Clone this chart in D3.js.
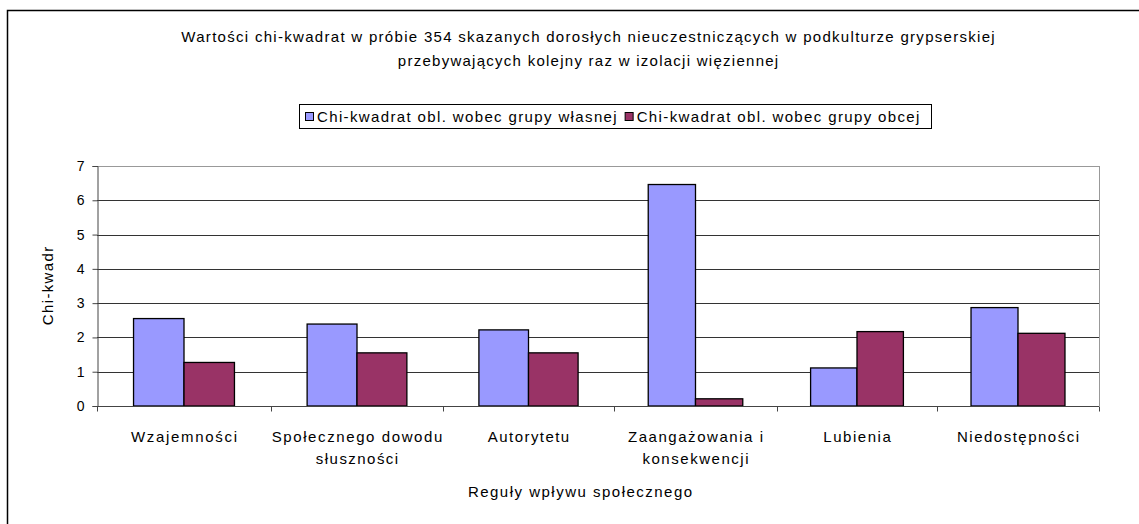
<!DOCTYPE html>
<html><head><meta charset="utf-8">
<script src="https://cdn.jsdelivr.net/npm/d3@7"></script>
<style>body{margin:0;background:#fff}svg{display:block;font-family:"Liberation Sans",Arial,sans-serif}</style>
</head><body><svg id="c" width="1139" height="524"></svg>
<script>
const categories = [["Wzajemności"],["Społecznego dowodu","słuszności"],["Autorytetu"],["Zaangażowania i","konsekwencji"],["Lubienia"],["Niedostępności"]];
const seriesNames = ["Chi-kwadrat obl. wobec grupy własnej","Chi-kwadrat obl. wobec grupy obcej"];
const ownGroup = [2.55, 2.39, 2.22, 6.46, 1.11, 2.87];
const otherGroup = [1.27, 1.55, 1.55, 0.21, 2.17, 2.12];
const yTicks = [0,1,2,3,4,5,6,7];
const titleLines = ["Wartości chi-kwadrat w próbie 354 skazanych dorosłych nieuczestniczących w podkulturze grypserskiej","przebywających kolejny raz w izolacji więziennej"];
const xTitle = "Reguły wpływu społecznego";
const yTitle = "Chi-kwadr";
const colors = ["#9999FF","#993366"];

const svg = d3.select("#c");
const T=166,B=406;
const edges=[97,271,443,614,777,937,1099]; // category boundaries of the plot (layout)
const L=edges[0],R=edges[edges.length-1];
const FS=15, SP=1.19;

function stretch(t,f){const n=t.node();const l=n.getComputedTextLength();t.attr("textLength",l*f).attr("lengthAdjust","spacing");return l*f;}

svg.append("rect").attr("x",7.5).attr("y",10.5).attr("width",1200).attr("height",600).attr("fill","none").attr("stroke","#000").attr("stroke-width",1.5);

const x = d3.scaleLinear().domain(d3.range(edges.length)).range(edges);
const y = d3.scaleLinear().domain([0,7]).range([B,T]);
const barFrac=0.29;
const bx=(i,si)=>{const c=(x(i)+x(i+1))/2,w=(x(i+1)-x(i))*barFrac;return c-w+si*w;};
const bw=i=>(x(i+1)-x(i))*barFrac;

// gridlines
svg.append("g").selectAll("line").data(yTicks.slice(1)).join("line")
  .attr("x1",L).attr("x2",R).attr("y1",d=>Math.round(y(d))+0.5).attr("y2",d=>Math.round(y(d))+0.5)
  .attr("stroke",d=>d===7?"#999":"#333").attr("stroke-width",1);
svg.append("line").attr("x1",R+0.5).attr("x2",R+0.5).attr("y1",T).attr("y2",B).attr("stroke","#999");

// bars
[ownGroup,otherGroup].forEach((vals,si)=>{
  svg.append("g").selectAll("rect").data(vals).join("rect")
    .attr("x",(d,i)=>bx(i,si)).attr("width",(d,i)=>bw(i))
    .attr("y",d=>y(d)).attr("height",d=>B-y(d))
    .attr("fill",colors[si]).attr("stroke","#000").attr("stroke-width",1.3);
});

// y axis
const ya = svg.append("g").attr("transform",`translate(${L+0.5},0)`).call(d3.axisLeft(y).tickValues(yTicks).tickSize(5).tickPadding(8).tickFormat(d3.format("d")));
ya.selectAll("text").attr("font-size",14).attr("fill","#000").attr("font-family","Liberation Sans, Arial");
ya.select(".domain").attr("stroke","#444");
ya.selectAll(".tick line").attr("stroke","#444");

// x axis
const xa = svg.append("g").attr("transform",`translate(0,${B+0.5})`);
xa.append("line").attr("x1",L).attr("x2",R).attr("stroke","#444");
xa.selectAll(".tk").data(edges.map((e,i)=>i)).join("line")
  .attr("x1",i=>Math.round(x(i))+0.5).attr("x2",i=>Math.round(x(i))+0.5)
  .attr("y1",0).attr("y2",5).attr("stroke","#444");
categories.forEach((lines,i)=>{
  lines.forEach((s,j)=>{
    const t=svg.append("text").attr("text-anchor","middle").attr("font-size",FS).attr("fill","#000")
      .attr("x",(x(i)+x(i+1))/2).attr("y",442+j*22).text(s);
    stretch(t,SP);
  });
});

// axis titles
stretch(svg.append("text").attr("x",580).attr("y",497).attr("text-anchor","middle").attr("font-size",FS).text(xTitle),SP);
stretch(svg.append("text").attr("transform","translate(53,286) rotate(-90)").attr("text-anchor","middle").attr("font-size",FS).text(yTitle),1.16);

// title
titleLines.forEach((s,j)=>stretch(svg.append("text").attr("x",588).attr("y",42+j*24).attr("text-anchor","middle").attr("font-size",FS).text(s),1.185));

// legend
const lg=svg.append("g");
lg.append("rect").attr("x",299.5).attr("y",104.5).attr("width",632).attr("height",24).attr("fill","#fff").attr("stroke","#000");
let lx=305;
seriesNames.forEach((s,i)=>{
  lg.append("rect").attr("x",lx+0.5).attr("y",112.5).attr("width",8).attr("height",8).attr("fill",colors[i]).attr("stroke","#000");
  const t=lg.append("text").attr("x",lx+12).attr("y",122).attr("font-size",FS).text(s);
  lx+=12+stretch(t,SP)+8;
});
</script></body></html>
